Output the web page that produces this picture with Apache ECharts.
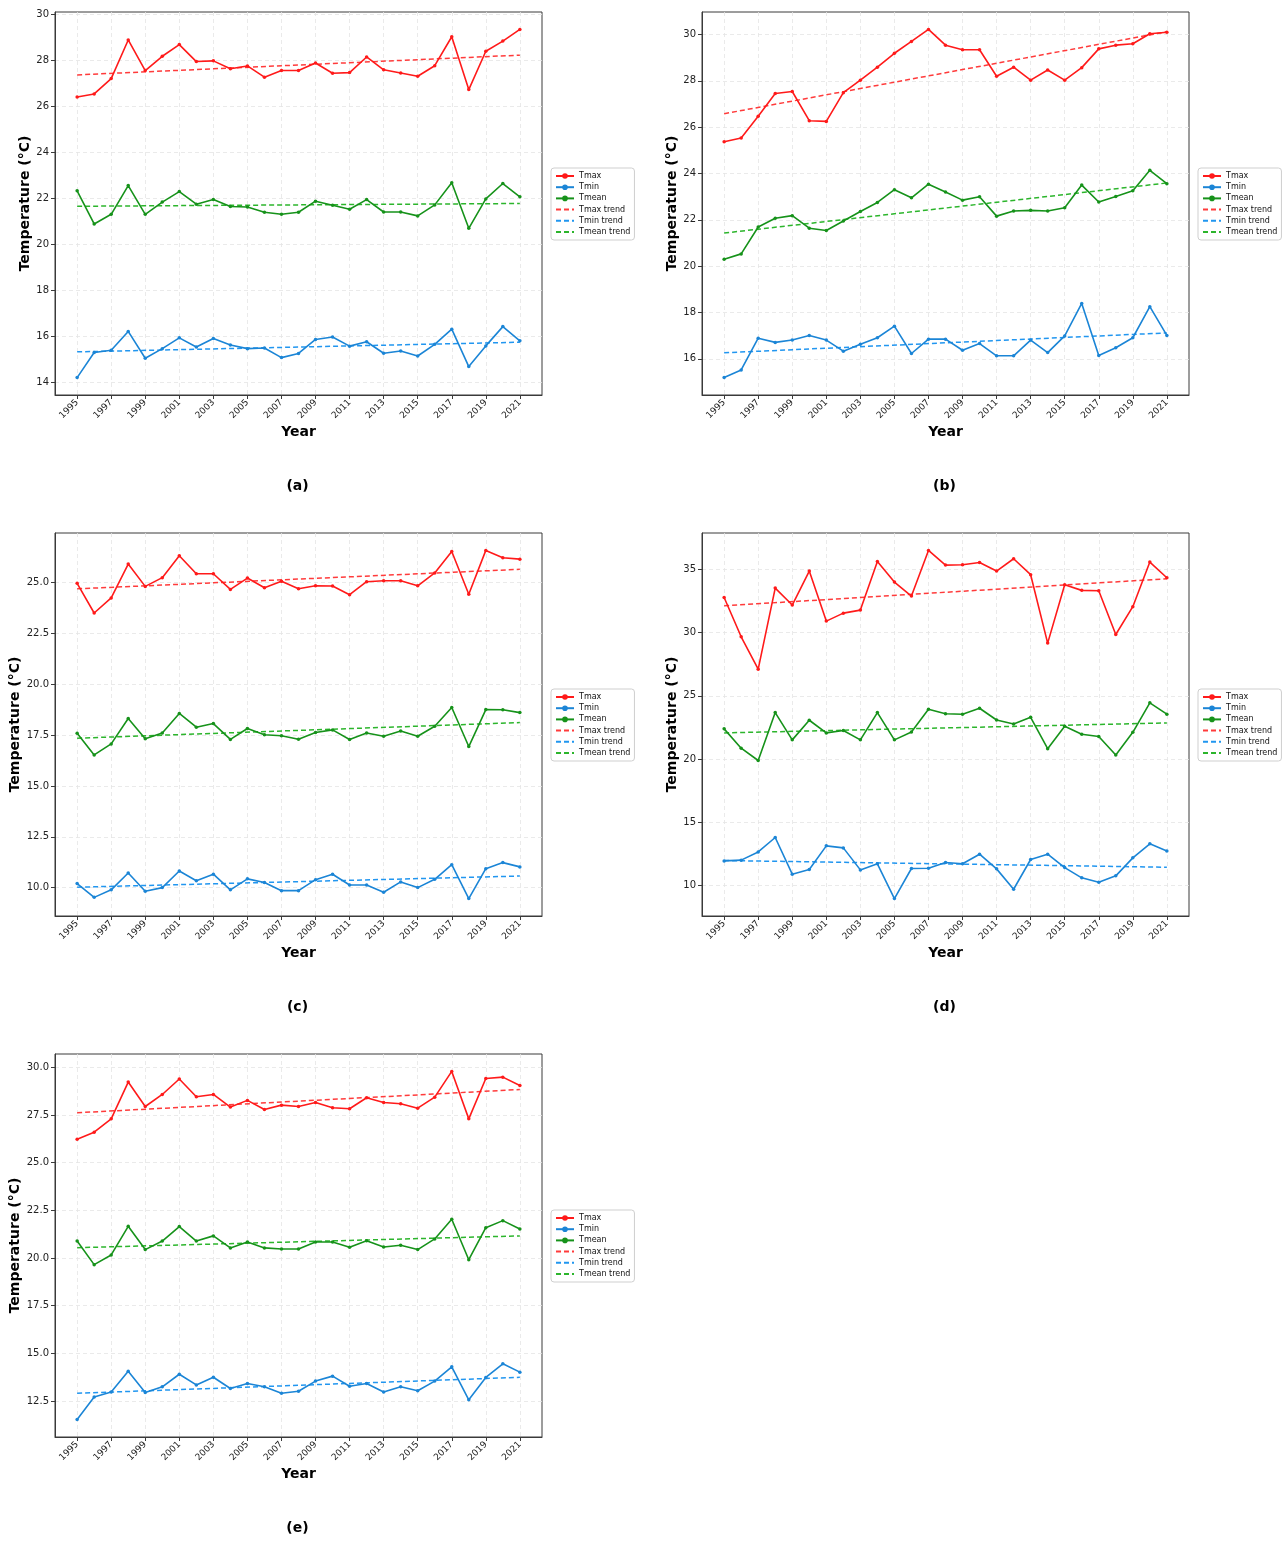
<!DOCTYPE html>
<html>
<head>
<meta charset="UTF-8">
<title>Temperature trends 1995-2021</title>
<script src="https://cdn.jsdelivr.net/npm/echarts@6/dist/echarts.min.js"></script>
<style>
html,body{margin:0;padding:0;background:#fff}
#chart{width:1284px;height:1544px}
</style>
</head>
<body>
<div id="chart"></div>
<script type="text/javascript">
var years = [1995,1996,1997,1998,1999,2000,2001,2002,2003,2004,2005,2006,2007,2008,2009,2010,2011,2012,2013,2014,2015,2016,2017,2018,2019,2020,2021];
var yearTicks = [1995,1997,1999,2001,2003,2005,2007,2009,2011,2013,2015,2017,2019,2021];
var trendYears = [1995, 2021];

// (a)
var tmaxA  = [26.41,26.54,27.21,28.89,27.56,28.18,28.69,27.95,27.98,27.64,27.76,27.27,27.56,27.56,27.89,27.44,27.47,28.15,27.59,27.45,27.31,27.77,29.03,26.73,28.40,28.84,29.35];
var tminA  = [14.19,15.28,15.38,16.20,15.03,15.45,15.92,15.52,15.89,15.61,15.45,15.48,15.06,15.24,15.85,15.96,15.56,15.75,15.25,15.35,15.13,15.64,16.30,14.67,15.57,16.41,15.79];
var tmeanA = [22.32,20.88,21.30,22.55,21.30,21.83,22.29,21.74,21.94,21.64,21.62,21.39,21.30,21.39,21.87,21.69,21.52,21.94,21.40,21.40,21.23,21.71,22.67,20.69,21.97,22.64,22.06];
var tmaxTrendA = [27.37, 28.23];
var tminTrendA = [15.31, 15.73];
var tmeanTrendA = [21.65, 21.77];
var yTicksA = [14,16,18,20,22,24,26,28,30];

// (b)
var tmaxB  = [25.37,25.53,26.47,27.45,27.54,26.28,26.25,27.49,28.03,28.59,29.19,29.70,30.22,29.54,29.34,29.34,28.20,28.59,28.03,28.47,28.03,28.57,29.38,29.54,29.60,30.03,30.10];
var tminB  = [15.19,15.52,16.89,16.71,16.81,17.01,16.81,16.33,16.63,16.91,17.41,16.23,16.85,16.85,16.37,16.66,16.13,16.13,16.81,16.27,16.99,18.39,16.14,16.48,16.91,18.25,17.01];
var tmeanB = [20.30,20.53,21.69,22.07,22.18,21.64,21.54,21.95,22.36,22.75,23.30,22.95,23.54,23.20,22.85,23.00,22.16,22.38,22.41,22.38,22.52,23.50,22.77,23.01,23.26,24.14,23.56];
var tmaxTrendB = [26.58, 30.12];
var tminTrendB = [16.26, 17.12];
var tmeanTrendB = [21.43, 23.59];
var yTicksB = [16,18,20,22,24,26,28,30];

// (c)
var tmaxC  = [24.97,23.51,24.25,25.92,24.82,25.25,26.33,25.44,25.44,24.67,25.23,24.75,25.07,24.70,24.85,24.84,24.41,25.05,25.10,25.10,24.85,25.48,26.54,24.43,26.59,26.23,26.16];
var tminC  = [10.20,9.52,9.89,10.72,9.82,10.00,10.82,10.34,10.66,9.89,10.43,10.25,9.85,9.85,10.39,10.66,10.13,10.13,9.77,10.28,10.00,10.41,11.13,9.46,10.93,11.23,11.02];
var tmeanC = [17.60,16.53,17.07,18.32,17.32,17.61,18.57,17.89,18.07,17.29,17.83,17.52,17.47,17.30,17.63,17.76,17.29,17.61,17.45,17.70,17.45,17.94,18.86,16.94,18.76,18.75,18.61];
var tmaxTrendC = [24.70, 25.66];
var tminTrendC = [10.02, 10.57];
var tmeanTrendC = [17.35, 18.12];
var yTicksC = [10,12.5,15,17.5,20,22.5,25];

// (d)
var tmaxD  = [32.78,29.67,27.11,33.52,32.18,34.87,30.91,31.54,31.78,35.63,34.00,32.89,36.50,35.34,35.37,35.55,34.87,35.84,34.58,29.17,33.79,33.34,33.31,29.85,32.05,35.58,34.34];
var tminD  = [11.95,12.01,12.66,13.80,10.90,11.27,13.14,12.98,11.24,11.72,8.97,11.35,11.37,11.82,11.72,12.48,11.32,9.71,12.06,12.48,11.42,10.61,10.26,10.77,12.19,13.30,12.74];
var tmeanD = [22.39,20.86,19.89,23.68,21.52,23.07,22.07,22.26,21.52,23.68,21.52,22.14,23.94,23.58,23.55,24.02,23.09,22.78,23.30,20.82,22.60,21.97,21.79,20.32,22.12,24.45,23.55];
var tmaxTrendD = [32.12, 34.26];
var tminTrendD = [11.98, 11.45];
var tmeanTrendD = [22.07, 22.86];
var yTicksD = [10,15,20,25,30,35];

// (e)
var tmaxE  = [26.23,26.60,27.30,29.23,27.95,28.58,29.39,28.46,28.58,27.92,28.27,27.79,28.02,27.95,28.16,27.88,27.83,28.41,28.16,28.09,27.86,28.44,29.79,27.30,29.42,29.49,29.05];
var tminE  = [11.52,12.71,12.97,14.06,12.94,13.24,13.90,13.34,13.74,13.15,13.41,13.24,12.90,13.01,13.54,13.80,13.27,13.41,12.97,13.24,13.03,13.54,14.29,12.56,13.73,14.45,14.01];
var tmeanE = [20.89,19.65,20.16,21.66,20.44,20.89,21.65,20.89,21.16,20.53,20.84,20.53,20.47,20.47,20.84,20.84,20.56,20.91,20.58,20.67,20.44,21.00,22.03,19.91,21.59,21.96,21.52];
var tmaxTrendE = [27.62, 28.84];
var tminTrendE = [12.90, 13.74];
var tmeanTrendE = [20.54, 21.16];
var yTicksE = [12.5,15,17.5,20,22.5,25,27.5,30];

var seriesNames = ['Tmax','Tmin','Tmean','Tmax trend','Tmin trend','Tmean trend'];
var tags = ['(a)','(b)','(c)','(d)','(e)'];

var panels = [
  {tmax:tmaxA, tmin:tminA, tmean:tmeanA, trends:[tmaxTrendA,tminTrendA,tmeanTrendA], ticks:yTicksA, dec:0},
  {tmax:tmaxB, tmin:tminB, tmean:tmeanB, trends:[tmaxTrendB,tminTrendB,tmeanTrendB], ticks:yTicksB, dec:0},
  {tmax:tmaxC, tmin:tminC, tmean:tmeanC, trends:[tmaxTrendC,tminTrendC,tmeanTrendC], ticks:yTicksC, dec:1},
  {tmax:tmaxD, tmin:tminD, tmean:tmeanD, trends:[tmaxTrendD,tminTrendD,tmeanTrendD], ticks:yTicksD, dec:0},
  {tmax:tmaxE, tmin:tminE, tmean:tmeanE, trends:[tmaxTrendE,tminTrendE,tmeanTrendE], ticks:yTicksE, dec:1}
];

// layout of the plot frames (px)
var layout = [
  {left:55,  top:12},
  {left:702, top:12},
  {left:55,  top:533},
  {left:702, top:533},
  {left:55,  top:1054}
];
var plotW = 487, plotH = 383;

var lineColors  = ['#ff1a1a','#1b85d6','#16921a'];
var trendColors = ['#ff3b3b','#2196f0','#2cb52c'];
var FONT = 'DejaVu Sans';

function pairs(xs, ys){
  var out = [];
  for (var i = 0; i < xs.length; i++) out.push([xs[i], ys[i]]);
  return out;
}

// legend entries: trend lines show no marker
var legendItems = seriesNames.map(function(n, i){
  return i < 3 ? {name:n} : {name:n, itemStyle:{opacity:0}};
});

var grids = [], xAxes = [], yAxes = [], series = [], legends = [], graphics = [];

panels.forEach(function(p, k){
  var L = layout[k];
  grids.push({left:L.left, top:L.top, width:plotW, height:plotH, show:true, borderColor:'#3a3a3a', borderWidth:1, backgroundColor:'#fff'});

  // matplotlib-like 5% margins around the data
  var all = p.tmax.concat(p.tmin, p.tmean);
  var lo = Math.min.apply(null, all), hi = Math.max.apply(null, all);
  var pad = (hi - lo) * 0.05;

  xAxes.push({
    type:'value', gridIndex:k, min:1993.7, max:2022.3,
    name:'Year', nameLocation:'middle', nameGap:30,
    nameTextStyle:{fontFamily:FONT, fontSize:14, fontWeight:'bold', color:'#000'},
    axisLine:{lineStyle:{color:'#3a3a3a', width:1}},
    axisTick:{show:true, length:4, customValues:yearTicks, lineStyle:{color:'#3a3a3a'}},
    axisLabel:{customValues:yearTicks, rotate:45, fontSize:9, fontFamily:FONT, color:'#222', margin:6,
      formatter:function(v){ return String(v); }},
    splitLine:{show:true, lineStyle:{color:'#e4e4e4', type:[4,3], width:0.8}}
  });
  yAxes.push({
    type:'value', gridIndex:k, min:lo - pad, max:hi + pad,
    name:'Temperature (°C)', nameLocation:'middle', nameGap: p.dec ? 31 : 23,
    nameTextStyle:{fontFamily:FONT, fontSize:14, fontWeight:'bold', color:'#000'},
    axisLine:{show:true, lineStyle:{color:'#3a3a3a', width:1}},
    axisTick:{show:true, length:4, customValues:p.ticks, lineStyle:{color:'#3a3a3a'}},
    axisLabel:{customValues:p.ticks, fontSize:10, fontFamily:FONT, color:'#222', margin:6,
      formatter:function(v){ return v.toFixed(p.dec); }},
    splitLine:{show:true, lineStyle:{color:'#e4e4e4', type:[4,3], width:0.8}}
  });

  [p.tmax, p.tmin, p.tmean].forEach(function(vals, j){
    series.push({
      name:seriesNames[j], type:'line', xAxisIndex:k, yAxisIndex:k,
      data:pairs(years, vals), symbol:'circle', symbolSize:3.5, showSymbol:true,
      lineStyle:{color:lineColors[j], width:1.6}, itemStyle:{color:lineColors[j]},
      animation:false, z:3
    });
  });
  p.trends.forEach(function(vals, j){
    series.push({
      name:seriesNames[3 + j], type:'line', xAxisIndex:k, yAxisIndex:k,
      data:pairs(trendYears, vals), symbol:'none',
      lineStyle:{color:trendColors[j], width:1.5, type:[5,3]}, itemStyle:{color:trendColors[j]},
      animation:false, z:2
    });
  });

  legends.push({
    orient:'vertical', left:L.left + plotW + 9, top:L.top + 156,
    data:legendItems, selectedMode:false,
    itemWidth:18, itemHeight:7, itemGap:3.2,
    textStyle:{fontFamily:FONT, fontSize:8, color:'#111'},
    backgroundColor:'#fff', borderColor:'#cfcfcf', borderWidth:1, borderRadius:3,
    padding:[4,4,4,4]
  });

  graphics.push({
    type:'text', x:L.left + plotW / 2 - 1, y:L.top + 474,
    style:{text:tags[k], font:'bold 14px "DejaVu Sans"', fill:'#000', textAlign:'center', textVerticalAlign:'middle'}
  });
});

var mychart = echarts.init(document.getElementById('chart'), null, {renderer:'canvas'});
mychart.setOption({
  backgroundColor:'#fff',
  animation:false,
  grid:grids,
  xAxis:xAxes,
  yAxis:yAxes,
  legend:legends,
  graphic:graphics,
  series:series
});
</script>
</body>
</html>
